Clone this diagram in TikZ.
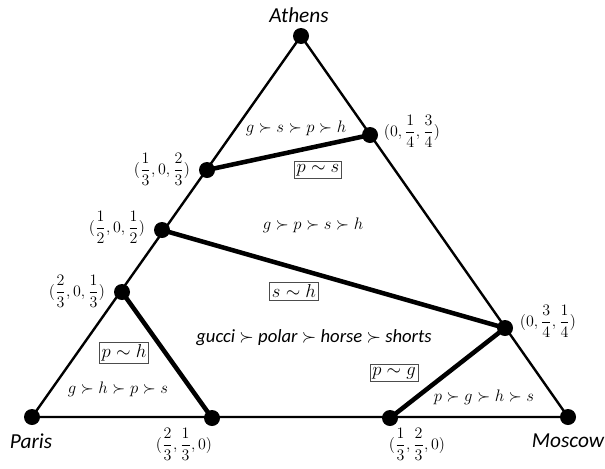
\documentclass[tikz,border=0pt]{standalone}
\usepackage{fontspec}
\usepackage{amsmath}
\usepackage{anyfontsize}
\newfontfamily\calibri{Carlito}
\begin{document}
\begin{tikzpicture}[x=0.75pt,y=-0.75pt,
  vertex/.style={circle,fill,inner sep=0pt,minimum size=12pt},
  edge/.style={line width=1.8pt},
  cut/.style={line width=3.4pt},
  city/.style={font=\calibri\itshape\fontsize{16}{18}\selectfont},
  pref/.style={font=\fontsize{12.5}{15}\selectfont},
  indiff/.style={draw=black!70,line width=0.5pt,inner sep=1.8pt,font=\fontsize{14}{16}\selectfont},
  coord/.style={font=\fontsize{12}{13}\selectfont,inner sep=0pt}]
\useasboundingbox (0,0) rectangle (605,468);
% corners
\coordinate (athens) at (301,36);
\coordinate (paris) at (32,417);
\coordinate (moscow) at (568,417);
% points on the sides
\coordinate (l1) at (207,170);
\coordinate (l2) at (162,230);
\coordinate (l3) at (122,292);
\coordinate (r1) at (370,135);
\coordinate (r2) at (505,328);
\coordinate (b1) at (212,418);
\coordinate (b2) at (390,418);
\draw[edge] (paris) -- (athens) -- (moscow) -- cycle;
\draw[cut] (l1) -- (r1);
\draw[cut] (l2) -- (r2);
\draw[cut] (l3) -- (b1);
\draw[cut] (b2) -- (r2);
\foreach \p in {athens,paris,moscow,l1,l2,l3,r1,r2,b1,b2}
  \node[vertex] at (\p) {};
\node[city] at (299,15) {Athens};
\node[city] at (31,441) {Paris};
\node[city] at (568,441) {Moscow};
\node[coord] at (162,169) {$(\dfrac{1}{3},0,\dfrac{2}{3})$};
\node[coord] at (117,227) {$(\dfrac{1}{2},0,\dfrac{1}{2})$};
\node[coord] at (77,291) {$(\dfrac{2}{3},0,\dfrac{1}{3})$};
\node[coord] at (412,131) {$(0,\dfrac{1}{4},\dfrac{3}{4})$};
\node[coord] at (548,321) {$(0,\dfrac{3}{4},\dfrac{1}{4})$};
\node[coord] at (184,444) {$(\dfrac{2}{3},\dfrac{1}{3},0)$};
\node[coord] at (417,444) {$(\dfrac{1}{3},\dfrac{2}{3},0)$};
\node[pref] at (296,128) {$g\succ s\succ p\succ h$};
\node[pref] at (313,225) {$g\succ p\succ s\succ h$};
\node[pref] at (118,389) {$g\succ h\succ p\succ s$};
\node[pref] at (484,397) {$p\succ g\succ h\succ s$};
\node[font=\calibri\itshape\fontsize{14}{16}\selectfont] at (314,338) {gucci $\succ$ polar $\succ$ horse $\succ$ shorts};
\node[indiff] at (318,170) {$p\sim s$};
\node[indiff] at (294,291) {$s\sim h$};
\node[indiff] at (124,353) {$p\sim h$};
\node[indiff] at (394,373) {$p\sim g$};
\end{tikzpicture}
\end{document}
